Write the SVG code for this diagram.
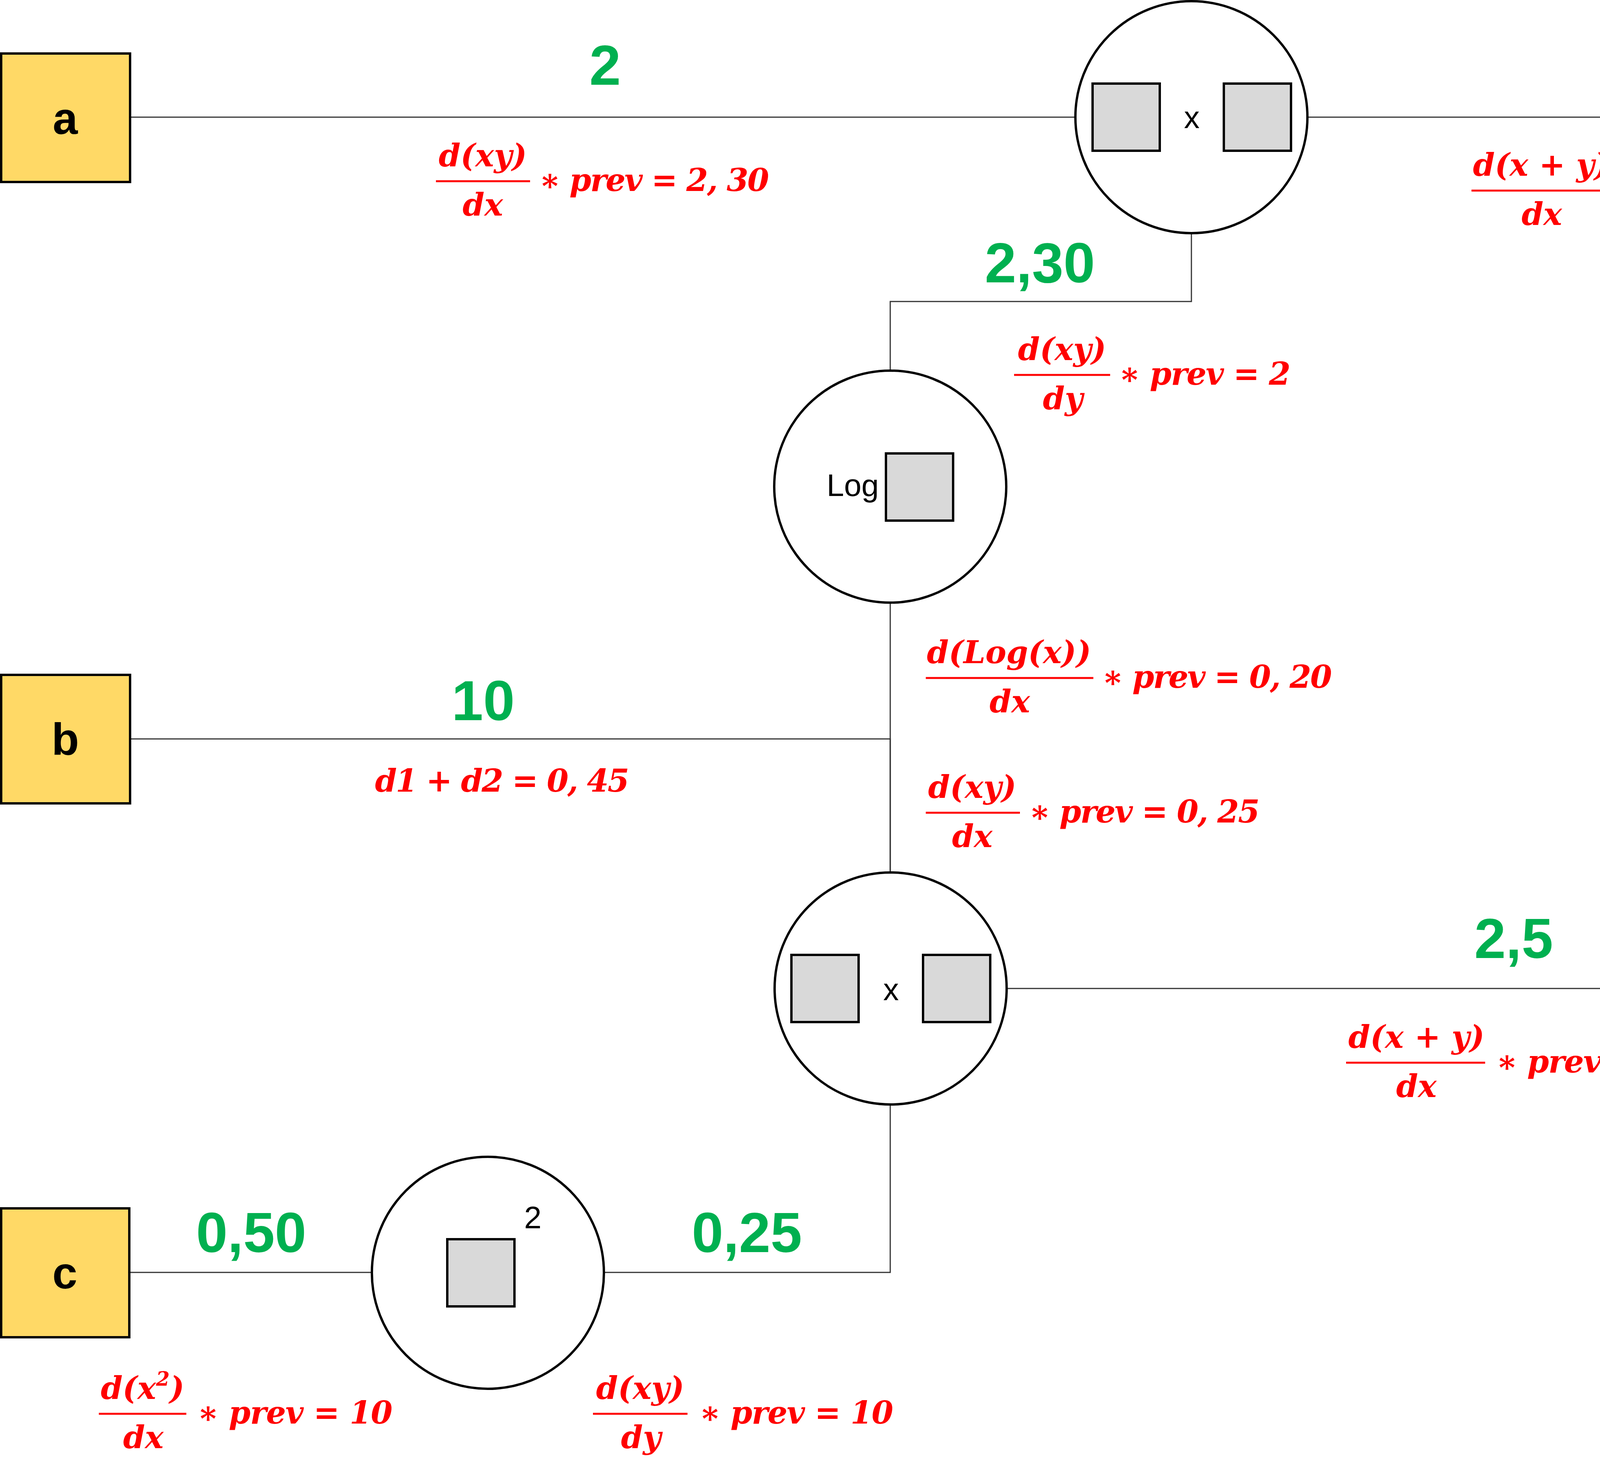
<svg xmlns="http://www.w3.org/2000/svg" width="7383" height="3746" viewBox="0 0 7383 3746">
<style>
.bg{fill:#ffffff}
.node rect{fill:#FFD966;stroke:#000;stroke-width:6}
.node text{font-family:"Liberation Sans",Arial,sans-serif;font-weight:bold;font-size:115px;fill:#000;text-anchor:middle}
.op circle{fill:#fff;stroke:#000;stroke-width:6}
.op rect{fill:#D9D9D9;stroke:#000;stroke-width:6}
.op text{font-family:"Liberation Sans",Arial,sans-serif;font-size:80px;fill:#000;text-anchor:middle}
.conn path{fill:none;stroke:#333;stroke-width:3}
.val{font-family:"Liberation Sans",Arial,sans-serif;font-weight:bold;font-size:145px;fill:#00B050;text-anchor:middle}
.grad text{font-family:"DejaVu Serif","Liberation Serif",serif;font-weight:bold;font-style:italic;font-size:80px;fill:#FF0000}
.grad text.c{text-anchor:middle}
.grad line{stroke:#FF0000;stroke-width:5}
</style>
<rect class="bg" x="0" y="0" width="7383" height="3746"/>

<g id="connectors" class="conn">
<path id="e-a-mul1" d="M333 300 H2753"/>
<path id="e-log-mul1" d="M2279 949 V772 H3050 V597"/>
<path id="e-mul1-add" d="M3347 300 H5176 V1547 H5391"/>
<path id="e-mul2-add" d="M2577 2531 H5176 V1547 H5391"/>
<path id="e-add-y" d="M5985 1547 H7052"/>
<path id="e-log-mul2" d="M2279 1543 V2234"/>
<path id="e-b-mul2" d="M333 1892 H2279 V2234"/>
<path id="e-sq-mul2" d="M1546 3258 H2279 V2828"/>
<path id="e-c-sq" d="M331 3258 H952"/>
</g>

<g id="node-a" class="node"><rect x="3" y="137" width="330" height="329"/><text x="167" y="343">a</text></g>
<g id="node-b" class="node"><rect x="3" y="1728" width="330" height="329"/><text x="167" y="1933">b</text></g>
<g id="node-c" class="node"><rect x="3" y="3094" width="328" height="330"/><text x="166" y="3299">c</text></g>
<g id="node-y" class="node"><rect x="7052" y="1380" width="328" height="330"/><text x="7216" y="1586">y</text></g>

<g id="op-mul1" class="op">
<circle cx="3050" cy="300" r="297"/>
<rect x="2797" y="214" width="172" height="172"/>
<rect x="3133" y="214" width="172" height="172"/>
<text x="3051" y="328">x</text>
</g>
<g id="op-log" class="op">
<circle cx="2279" cy="1246" r="297"/>
<rect x="2268" y="1161" width="172" height="172"/>
<text x="2183" y="1270">Log</text>
</g>
<g id="op-mul2" class="op">
<circle cx="2280" cy="2531" r="297"/>
<rect x="2026" y="2445" width="172" height="172"/>
<rect x="2363" y="2445" width="172" height="172"/>
<text x="2281" y="2561">x</text>
</g>
<g id="op-sq" class="op">
<circle cx="1249" cy="3259" r="297"/>
<rect x="1145" y="3173" width="172" height="172"/>
<text x="1364" y="3145">2</text>
</g>
<g id="op-add" class="op">
<circle cx="5688" cy="1547" r="297"/>
<rect x="5437" y="1461" width="171" height="172"/>
<rect x="5773" y="1461" width="171" height="172"/>
<text x="5691" y="1576">+</text>
</g>

<g id="values">
<text class="val" x="1549" y="217">2</text>
<text class="val" x="2662" y="723">2,30</text>
<text class="val" x="4257" y="257">4,60</text>
<text class="val" x="1237" y="1844">10</text>
<text class="val" x="6518" y="1499">7,10</text>
<text class="val" x="3875" y="2453">2,5</text>
<text class="val" x="643" y="3206">0,50</text>
<text class="val" x="1912" y="3206">0,25</text>
</g>

<g id="gradients" class="grad">
<g id="g-a">
<text class="c" x="1236" y="426">d(xy)</text>
<line x1="1116" y1="464" x2="1357" y2="464"/>
<text class="c" x="1236" y="552">dx</text>
<text x="1380" y="489" textLength="589">∗ prev = 2, 30</text>
</g>
<g id="g-log-mul1">
<text class="c" x="2719" y="922">d(xy)</text>
<line x1="2596" y1="960" x2="2842" y2="960"/>
<text class="c" x="2721" y="1048">dy</text>
<text x="2864" y="985" textLength="440">∗ prev = 2</text>
</g>
<g id="g-mul1-add">
<text class="c" x="3945" y="450">d(x + y)</text>
<line x1="3767" y1="488" x2="4119" y2="488"/>
<text class="c" x="3947" y="576">dx</text>
<text x="4144" y="513" textLength="445">∗ prev = 1</text>
</g>
<g id="g-add-y">
<text class="c" x="6276" y="1683">d(x)</text>
<line x1="6181" y1="1721" x2="6367" y2="1721"/>
<text class="c" x="6277" y="1809">dx</text>
<text x="6397" y="1746" textLength="426">∗ <tspan font-style="normal">prev = 1</tspan></text>
</g>
<g id="g-log-mul2">
<text class="c" x="2583" y="1698">d(Log(x))</text>
<line x1="2370" y1="1736" x2="2799" y2="1736"/>
<text class="c" x="2585" y="1824">dx</text>
<text x="2821" y="1761" textLength="589">∗ prev = 0, 20</text>
</g>
<g id="g-b">
<text x="960" y="2027" textLength="651">d1 + d2 = 0, 45</text>
</g>
<g id="g-b-mul2">
<text class="c" x="2489" y="2043">d(xy)</text>
<line x1="2370" y1="2081" x2="2611" y2="2081"/>
<text class="c" x="2489" y="2169">dx</text>
<text x="2634" y="2106" textLength="591">∗ prev = 0, 25</text>
</g>
<g id="g-mul2-add">
<text class="c" x="3626" y="2683">d(x + y)</text>
<line x1="3446" y1="2721" x2="3802" y2="2721"/>
<text class="c" x="3626" y="2809">dx</text>
<text x="3830" y="2746" textLength="441">∗ prev = 1</text>
</g>
<g id="g-c-sq">
<text class="c" x="365" y="3582">d(x<tspan font-size="50" dy="-34">2</tspan><tspan dy="34">)</tspan></text>
<line x1="253" y1="3620" x2="477" y2="3620"/>
<text class="c" x="367" y="3708">dx</text>
<text x="505" y="3645" textLength="500">∗ prev = 10</text>
</g>
<g id="g-sq-mul2">
<text class="c" x="1639" y="3582">d(xy)</text>
<line x1="1518" y1="3620" x2="1760" y2="3620"/>
<text class="c" x="1641" y="3708">dy</text>
<text x="1790" y="3645" textLength="497">∗ prev = 10</text>
</g>
</g>
</svg>
